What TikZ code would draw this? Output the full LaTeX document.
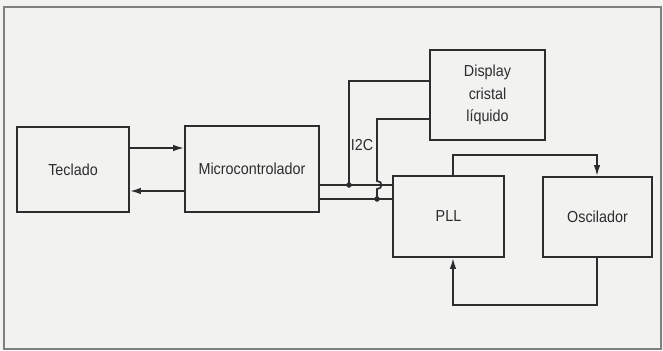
\documentclass[tikz,border=0pt]{standalone}
\usepackage{fontspec}
\setmainfont[FakeStretch=0.9]{Liberation Sans}
\usetikzlibrary{arrows.meta,calc}
\definecolor{bgcol}{RGB}{242,242,241}
\definecolor{ink}{RGB}{45,45,45}
\begin{document}
\begin{tikzpicture}[x=1bp,y=-1bp,
  box/.style={draw=ink,line width=1.7bp,inner sep=0pt,align=center,
    text=ink,font=\fontsize{16}{22.5}\selectfont},
  wire/.style={draw=ink,line width=1.7bp},
  arr/.style={wire,-{Latex[length=11bp,width=6.5bp]}},
  dot/.style={circle,fill=ink,inner sep=0pt,minimum size=5.5bp}]
\useasboundingbox (0,0) rectangle (663,350);
\fill[bgcol] (0,0) rectangle (663,350);
\draw[gray,line width=1.2bp] (4,7) rectangle (661,349);

\node[box,minimum width=112bp,minimum height=85bp] (tec) at (73,169.5) {Teclado};
\node[box,minimum width=134bp,minimum height=86bp] (mic) at (252,169) {Microcontrolador};
\node[box,minimum width=115bp,minimum height=90bp] (dis) at (487.5,95) {Display\\cristal\\líquido};
\node[box,minimum width=111bp,minimum height=81bp] (pll) at (448.5,216.5) {PLL};
\node[box,minimum width=109bp,minimum height=80bp] (osc) at (597.5,217) {Oscilador};

\draw[arr] (tec.east |- 0,148) -- (mic.west |- 0,148);
\draw[arr] (mic.west |- 0,191) -- (tec.east |- 0,191);

\coordinate (j1) at (349,185);
\coordinate (j2) at (377,199);
\draw[wire] (mic.east |- j1) -- (pll.west |- j1);
\draw[wire] (mic.east |- j2) -- (pll.west |- j2);
\draw[wire] (dis.west |- 0,81) -| (j1);
\draw[wire] (dis.west |- 0,119) -| (377,181) .. controls (383,181) and (383,189) .. (377,189) -- (j2);
\node[dot] at (j1) {};
\node[dot] at (j2) {};
\node[text=ink,font=\fontsize{16}{18}\selectfont] (i2c) at (362,145) {I2C};

\draw[arr] (pll.north -| 453,0) |- (597,155) -- (osc.north -| 597,0);
\draw[arr] (osc.south -| 597,0) |- (453,305) -- (pll.south -| 453,0);
\end{tikzpicture}
\end{document}
